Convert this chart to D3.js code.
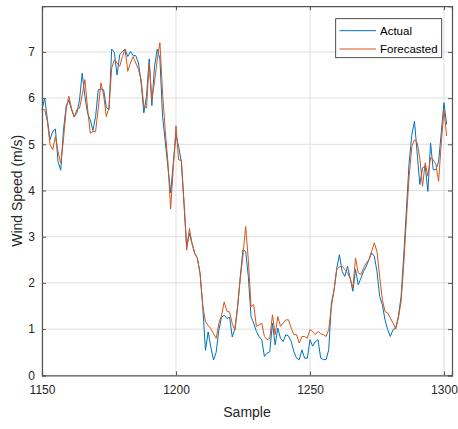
<!DOCTYPE html>
<html>
<head>
<meta charset="utf-8">
<script src="https://cdn.jsdelivr.net/npm/d3@7"></script>
<style>
  html, body { margin: 0; padding: 0; background: #fff; }
  svg { display: block; font-family: "Liberation Sans", Arial, Helvetica, sans-serif; }
</style>
</head>
<body>
<svg id="chart" width="458" height="429"></svg>
<script>
// ---- data ----
const startSample = 1150;
const actual = [
  5.75, 6.0, 5.55, 5.1, 5.28, 5.33, 4.62, 4.44, 5.3, 5.82,
  5.96, 5.75, 5.6, 5.67, 5.96, 6.54, 6.04, 5.67, 5.53, 5.3,
  5.6, 6.18, 6.2, 6.18, 5.8, 5.75, 7.06, 6.99, 6.5, 6.94,
  7.01, 7.06, 6.9, 7.01, 6.92, 6.92, 6.76, 6.33, 5.68, 6.04,
  6.85, 5.84, 6.69, 7.06, 6.85, 5.6, 5.05, 4.5, 3.95, 4.6,
  5.2, 4.95, 4.62, 3.72, 2.78, 3.07, 2.85, 2.64, 2.53, 2.2,
  1.48, 0.54, 0.94, 0.61, 0.33, 0.5, 0.98, 1.26, 1.3, 1.23,
  1.26, 0.83, 1.01, 1.49, 2.14, 2.72, 2.68, 2.14, 1.27, 1.13,
  0.95, 0.84, 0.77, 0.41, 0.48, 0.51, 1.13, 0.66, 1.02, 0.8,
  0.73, 0.88, 0.85, 0.73, 0.51, 0.37, 0.34, 0.55, 0.37, 0.37,
  0.77, 0.63, 0.73, 0.77, 0.37, 0.34, 0.34, 0.55, 1.57, 1.85,
  2.32, 2.61, 2.25, 2.14, 2.36, 2.1, 1.82, 2.29, 1.96, 2.1,
  2.25, 2.36, 2.5, 2.65, 2.58, 2.25, 1.71, 1.53, 1.2, 0.99,
  0.84, 0.99, 1.02, 1.28, 1.7, 2.6, 3.6, 4.6, 5.2, 5.5,
  4.81, 4.13, 4.49, 4.53, 3.98, 5.03, 4.45, 4.45, 4.63, 5.25,
  5.9, 5.43
];
const forecasted = [
  5.75, 5.75, 5.5, 5.0, 4.88, 5.17, 4.84, 4.59, 5.1, 5.75,
  6.04, 5.78, 5.59, 5.75, 5.78, 6.07, 6.4, 5.78, 5.24, 5.28,
  5.28, 5.78, 6.33, 6.07, 5.6, 5.8, 6.65, 6.83, 6.76, 6.69,
  6.9, 7.06, 6.58, 6.76, 6.9, 6.76, 6.62, 6.4, 5.82, 5.79,
  6.76, 5.97, 6.36, 6.83, 7.2, 6.1, 5.3, 4.6, 3.6, 4.5,
  5.4, 4.66, 4.66, 3.72, 2.71, 3.18, 2.85, 2.64, 2.53, 2.2,
  1.5, 1.16, 1.08, 1.01, 0.9, 0.8, 1.12, 1.3, 1.59, 1.39,
  1.37, 1.12, 0.98, 1.48, 2.1, 2.6, 3.22, 2.5, 1.49, 1.53,
  1.06, 1.09, 1.13, 0.84, 0.77, 0.8, 1.31, 0.88, 1.27, 1.06,
  1.13, 1.2, 1.2, 1.02, 0.88, 0.88, 0.7, 0.84, 0.84, 0.8,
  0.99, 0.95, 0.88, 0.95, 0.9, 0.88, 0.84, 0.99, 1.49, 1.85,
  2.29, 2.35, 2.36, 2.29, 2.22, 2.1, 1.89, 2.54, 2.22, 2.18,
  2.32, 2.43, 2.5, 2.68, 2.87, 2.68, 2.14, 1.64, 1.38, 1.35,
  1.24, 1.13, 1.0, 1.24, 1.6, 2.4, 3.4, 4.3, 4.95, 5.1,
  5.03, 4.7, 4.09, 4.6, 4.31, 4.71, 4.67, 4.56, 4.2, 5.03,
  5.74, 5.18
];
const xTicks = [1150, 1200, 1250, 1300];
const yTicks = [0, 1, 2, 3, 4, 5, 6, 7];
const seriesNames = ["Actual", "Forecasted"];
const seriesColors = ["#0072BD", "#D95319"];

// ---- layout ----
const svg = d3.select("#chart");
const L = 42, R = 452, T = 6.2, B = 375.3;
const x = d3.scaleLinear().domain([1150, 1303]).range([L, R]);
const y = d3.scaleLinear().domain([0, 7.99]).range([B, T]);
const axisColor = "#262626";

// grid
const grid = svg.append("g");
grid.selectAll("line.gx").data(xTicks).join("line")
  .attr("x1", d => x(d)).attr("x2", d => x(d)).attr("y1", T).attr("y2", B)
  .attr("stroke", "#dfdfdf").attr("stroke-width", 1);
grid.selectAll("line.gy").data(yTicks).join("line")
  .attr("y1", d => y(d)).attr("y2", d => y(d)).attr("x1", L).attr("x2", R)
  .attr("stroke", "#dfdfdf").attr("stroke-width", 1);

// series
const line = d3.line().x((d, i) => x(startSample + i)).y(d => y(d));
[actual, forecasted].forEach((s, k) => {
  svg.append("path").datum(s).attr("d", line)
    .attr("fill", "none").attr("stroke", seriesColors[k])
    .attr("stroke-width", 1).attr("stroke-linejoin", "round");
});

// axes (MATLAB box style, ticks inward)
const tl = 4;
const xb = svg.append("g").attr("transform", `translate(0,${B})`)
  .call(d3.axisBottom(x).tickValues(xTicks).tickSize(-tl).tickPadding(10).tickFormat(d3.format("d")));
const xt = svg.append("g").attr("transform", `translate(0,${T})`)
  .call(d3.axisTop(x).tickValues(xTicks).tickSize(-tl).tickFormat(""));
const yl = svg.append("g").attr("transform", `translate(${L},0)`)
  .call(d3.axisLeft(y).tickValues(yTicks).tickSize(-tl).tickPadding(7).tickFormat(d3.format("d")));
const yr = svg.append("g").attr("transform", `translate(${R},0)`)
  .call(d3.axisRight(y).tickValues(yTicks).tickSize(-tl).tickFormat(""));
[xb, xt, yl, yr].forEach(g => {
  g.select(".domain").attr("stroke", "#555").attr("stroke-width", 1.2);
  g.selectAll(".tick line").attr("stroke", "#555").attr("stroke-width", 1);
  g.selectAll(".tick text").attr("fill", axisColor).style("font-size", "12px")
    .style("font-family", "'Liberation Sans', Arial, sans-serif");
});
xb.selectAll(".tick text").attr("dy", "0.71em");

// axis labels
svg.append("text").attr("x", (L + R) / 2).attr("y", 417)
  .attr("text-anchor", "middle").attr("fill", axisColor)
  .style("font-size", "14px").text("Sample");
svg.append("text")
  .attr("transform", `translate(22,${(T + B) / 2}) rotate(-90)`)
  .attr("text-anchor", "middle").attr("fill", axisColor)
  .style("font-size", "14px").text("Wind Speed (m/s)");

// legend
const lg = svg.append("g");
lg.append("rect").attr("x", 335.7).attr("y", 18.7).attr("width", 106).attr("height", 39)
  .attr("fill", "#fff").attr("stroke", axisColor).attr("stroke-width", 0.8);
seriesNames.forEach((name, k) => {
  const yy = 30.7 + k * 18.3;
  lg.append("line").attr("x1", 339.5).attr("x2", 376).attr("y1", yy).attr("y2", yy)
    .attr("stroke", seriesColors[k]).attr("stroke-width", 1);
  lg.append("text").attr("x", 380).attr("y", yy).attr("dy", "0.35em")
    .attr("fill", "#000").style("font-size", "11.5px").text(name);
});
</script>
</body>
</html>
